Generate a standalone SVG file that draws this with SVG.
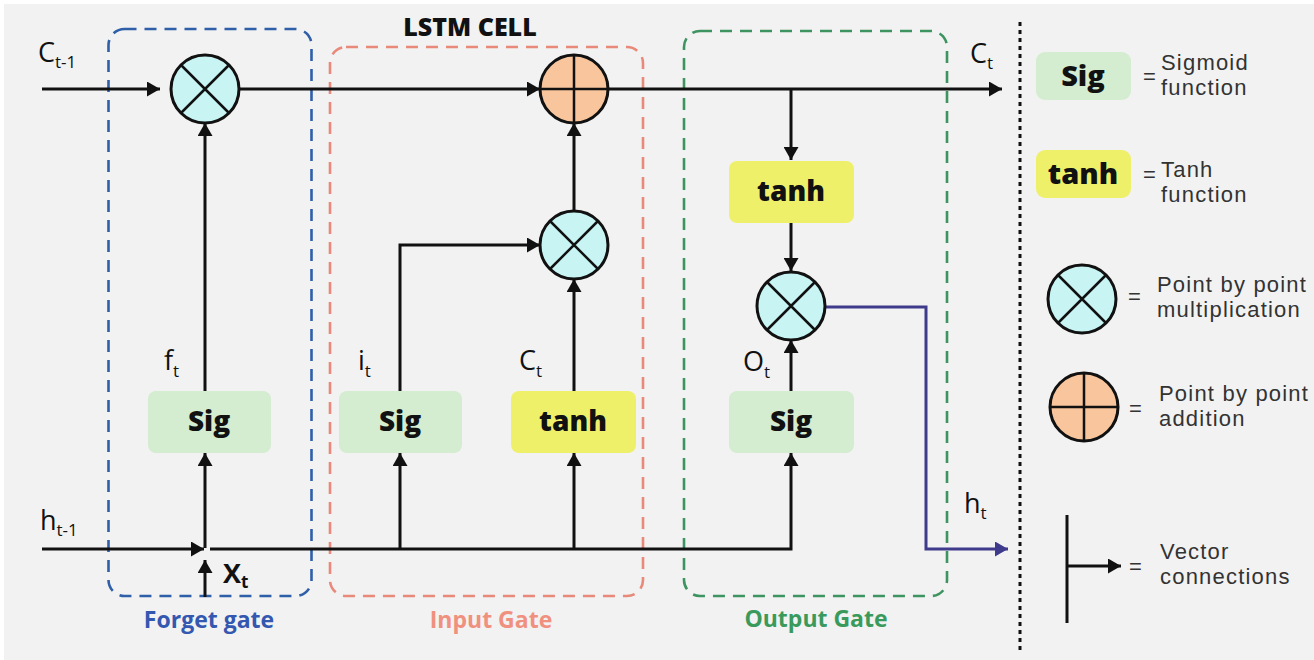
<svg xmlns="http://www.w3.org/2000/svg" width="1314" height="660" viewBox="0 0 1314 660">
<style>
.bg{fill:#f2f2f2}
.gate{fill:none;stroke-width:2.6;stroke-dasharray:12 8}
.c{stroke:#111;stroke-width:3;fill:none}
.cb{stroke:#3f3b8c;stroke-width:3;fill:none}
.mul{fill:#c8f4f4;stroke:#111;stroke-width:3}
.add{fill:#f8c59c;stroke:#111;stroke-width:3}
.in{stroke:#111;stroke-width:2.5;fill:none}
.sig{fill:#d4ecd0}
.tanh{fill:#eff06a}
.bt{font-family:"Open Sans","Liberation Sans",sans-serif;font-weight:800;fill:#111;text-anchor:middle}
.lbl{font-family:"Open Sans","Liberation Sans",sans-serif;font-size:27px;fill:#111}
.sub{font-size:17px}
.leg{font-family:"Liberation Sans","Open Sans",sans-serif;font-size:22px;letter-spacing:1.2px;fill:#333}
.gl{font-family:"Open Sans","Liberation Sans",sans-serif;font-weight:700;font-size:23px;text-anchor:middle}
</style>
<defs>
<marker id="ah" viewBox="0 0 13 15" refX="13" refY="7.5" markerWidth="13" markerHeight="15" markerUnits="userSpaceOnUse" orient="auto"><path d="M0,0 L13,7.5 L0,15 z" fill="#111"/></marker>
<marker id="ahb" viewBox="0 0 13 15" refX="13" refY="7.5" markerWidth="13" markerHeight="15" markerUnits="userSpaceOnUse" orient="auto"><path d="M0,0 L13,7.5 L0,15 z" fill="#3f3b8c"/></marker>
</defs>
<rect width="1314" height="660" fill="#ffffff"/>
<rect class="bg" x="4" y="4" width="1310" height="656"/>

<g id="gates">
<rect class="gate" x="108.5" y="29" width="203" height="567" rx="16" stroke="#2f5fa8"/>
<rect class="gate" x="330" y="47" width="313" height="549" rx="16" stroke="#e8897a"/>
<rect class="gate" x="684" y="31" width="263" height="565" rx="16" stroke="#3d9460"/>
<text class="gl" x="209" y="628" fill="#3457b0">Forget gate</text>
<text class="gl" x="491" y="628" fill="#f0907e">Input Gate</text>
<text class="gl" x="816" y="627" fill="#3a9a5c">Output Gate</text>
<text class="bt" x="470" y="36" font-size="25">LSTM CELL</text>
</g>

<g id="connectors">
<path class="c" d="M42,89 H160" marker-end="url(#ah)"/>
<path class="c" d="M239,89 H540" marker-end="url(#ah)"/>
<path class="c" d="M608,89 H1002" marker-end="url(#ah)"/>
<path class="c" d="M205,391 V123" marker-end="url(#ah)"/>
<path class="c" d="M42,549 H204" marker-end="url(#ah)"/>
<path class="c" d="M210,549 H791 V453" marker-end="url(#ah)"/>
<path class="c" d="M205,597 V560" marker-end="url(#ah)"/>
<path class="c" d="M205,548 V453" marker-end="url(#ah)"/>
<path class="c" d="M400,549 V453" marker-end="url(#ah)"/>
<path class="c" d="M574,549 V453" marker-end="url(#ah)"/>
<path class="c" d="M400,391 V245 H540" marker-end="url(#ah)"/>
<path class="c" d="M574,391 V279" marker-end="url(#ah)"/>
<path class="c" d="M574,211 V123" marker-end="url(#ah)"/>
<path class="c" d="M791,89 V160" marker-end="url(#ah)"/>
<path class="c" d="M791,223 V271" marker-end="url(#ah)"/>
<path class="c" d="M791,391 V340" marker-end="url(#ah)"/>
<path class="cb" d="M825,307 H926 V549 H1008" marker-end="url(#ahb)"/>
</g>

<g id="forget-mul">
<circle class="mul" cx="205" cy="89" r="34"/>
<path class="in" d="M181,65 L229,113 M229,65 L181,113"/>
</g>
<g id="add">
<circle class="add" cx="574" cy="89" r="34"/>
<path class="in" d="M574,55 V123 M540,89 H608"/>
</g>
<g id="input-mul">
<circle class="mul" cx="574" cy="245" r="34"/>
<path class="in" d="M550,221 L598,269 M598,221 L550,269"/>
</g>
<g id="output-mul">
<circle class="mul" cx="791" cy="306" r="34"/>
<path class="in" d="M767,282 L815,330 M815,282 L767,330"/>
</g>

<g id="forget-sig">
<rect class="sig" x="148" y="391" width="123" height="62" rx="8"/>
<text class="bt" x="209" y="431" font-size="28">Sig</text>
</g>
<g id="input-sig">
<rect class="sig" x="339" y="391" width="123" height="62" rx="8"/>
<text class="bt" x="400" y="431" font-size="28">Sig</text>
</g>
<g id="input-tanh">
<rect class="tanh" x="511" y="391" width="125" height="62" rx="8"/>
<text class="bt" x="573" y="431" font-size="28">tanh</text>
</g>
<g id="output-tanh">
<rect class="tanh" x="729" y="161" width="125" height="62" rx="8"/>
<text class="bt" x="791" y="201" font-size="28">tanh</text>
</g>
<g id="output-sig">
<rect class="sig" x="729" y="391" width="125" height="62" rx="8"/>
<text class="bt" x="791" y="431" font-size="28">Sig</text>
</g>

<g id="labels">
<text class="lbl" x="38" y="62">C<tspan class="sub" dy="6">t-1</tspan></text>
<text class="lbl" x="40" y="530">h<tspan class="sub" dy="6">t-1</tspan></text>
<text class="lbl" x="164" y="370">f<tspan class="sub" dy="7">t</tspan></text>
<text class="lbl" x="358" y="370">i<tspan class="sub" dy="7">t</tspan></text>
<text class="lbl" x="519" y="370">C<tspan class="sub" dy="7">t</tspan></text>
<text class="lbl" x="743" y="371">O<tspan class="sub" dy="7">t</tspan></text>
<text class="lbl" x="970" y="63">C<tspan class="sub" dy="6">t</tspan></text>
<text class="lbl" x="964" y="513">h<tspan class="sub" dy="6">t</tspan></text>
<text class="lbl" x="223" y="583" font-weight="700">X<tspan class="sub" dy="5">t</tspan></text>
</g>

<g id="divider">
<path d="M1020,22 V652" stroke="#111" stroke-width="3" stroke-dasharray="4 4"/>
</g>

<g id="legend-sig">
<rect class="sig" x="1036" y="52" width="95" height="48" rx="9"/>
<text class="bt" x="1083" y="86" font-size="29">Sig</text>
<text class="leg" x="1143" y="84">=</text>
<text class="leg" x="1161" y="70">Sigmoid</text>
<text class="leg" x="1161" y="95">function</text>
</g>
<g id="legend-tanh">
<rect class="tanh" x="1036" y="150" width="95" height="48" rx="9"/>
<text class="bt" x="1083" y="184" font-size="29">tanh</text>
<text class="leg" x="1143" y="182">=</text>
<text class="leg" x="1161" y="177">Tanh</text>
<text class="leg" x="1161" y="202">function</text>
</g>
<g id="legend-mul">
<circle class="mul" cx="1082" cy="299" r="34"/>
<path class="in" d="M1058,275 L1106,323 M1106,275 L1058,323"/>
<text class="leg" x="1128" y="304">=</text>
<text class="leg" x="1157" y="292">Point by point</text>
<text class="leg" x="1157" y="317">multiplication</text>
</g>
<g id="legend-add">
<circle class="add" cx="1084" cy="407" r="34"/>
<path class="in" d="M1084,373 V441 M1050,407 H1118"/>
<text class="leg" x="1129" y="416">=</text>
<text class="leg" x="1159" y="401">Point by point</text>
<text class="leg" x="1159" y="426">addition</text>
</g>
<g id="legend-vec">
<path class="c" d="M1067,515 V623"/>
<path class="c" d="M1067,566 H1121" marker-end="url(#ah)"/>
<text class="leg" x="1129" y="574">=</text>
<text class="leg" x="1160" y="559">Vector</text>
<text class="leg" x="1160" y="584">connections</text>
</g>
</svg>
